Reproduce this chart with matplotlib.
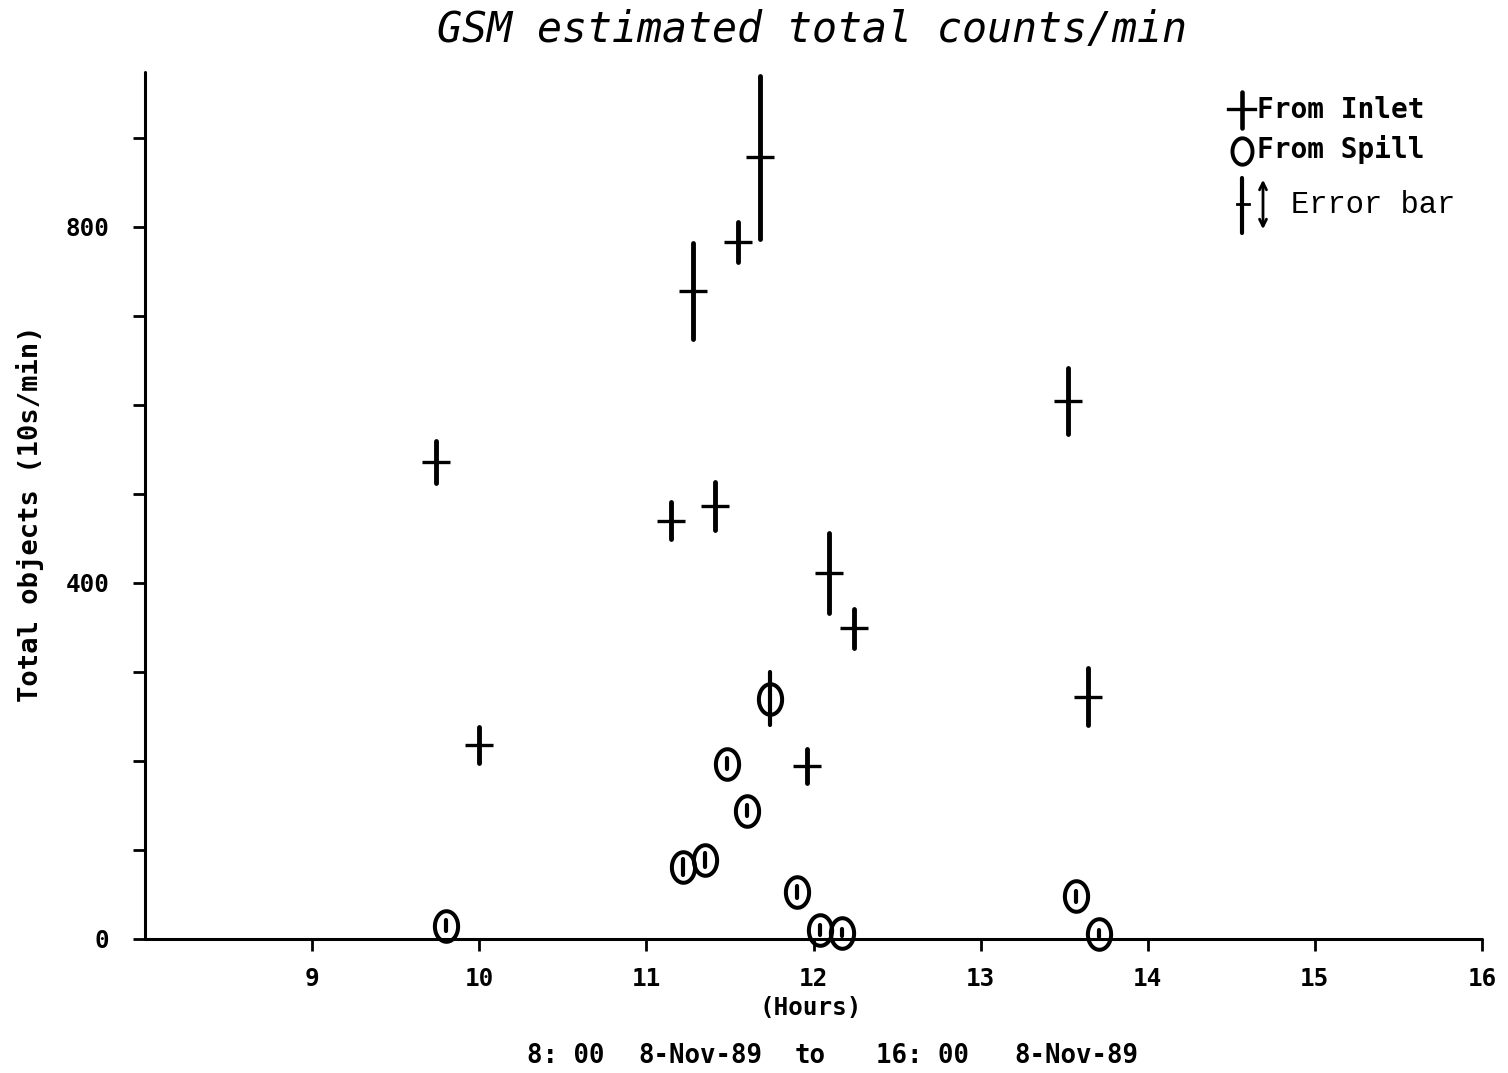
import matplotlib
matplotlib.use("Agg")
import numpy as np
import matplotlib.pyplot as plt
from matplotlib.path import Path
from matplotlib.lines import Line2D
from matplotlib.patches import FancyArrowPatch

# Counts from the inlet: time (hours), estimated count, error half-range
inlet_hours = [9.74, 10.00, 11.15, 11.28, 11.41, 11.55, 11.68, 11.96, 12.09, 12.24, 13.52, 13.64]
inlet_counts = [536, 218, 470, 728, 486, 783, 878, 194, 411, 349, 604, 272]
inlet_err = [24, 20, 21, 54, 27, 22, 92, 19, 45, 22, 37, 32]

# Counts from the spill
spill_hours = [9.80, 11.22, 11.35, 11.48, 11.60, 11.74, 11.90, 12.04, 12.17, 13.57, 13.71]
spill_counts = [15, 81, 89, 197, 144, 270, 53, 10, 7, 48, 6]
spill_err = [6, 9, 8, 6, 6, 30, 7, 6, 4, 6, 4]

x_ticks = [9, 10, 11, 12, 13, 14, 15, 16]
y_ticks = [0, 100, 200, 300, 400, 500, 600, 700, 800, 900]
y_tick_labels = ["0", "", "", "", "400", "", "", "", "800", ""]

W, H = 1508, 1073
fig = plt.figure(figsize=(W / 100, H / 100), dpi=100)
fig.patch.set_facecolor("white")


def fx(px):
    return px / W


def fy(py):
    return 1 - py / H


ax = fig.add_axes([fx(145), fy(939), (1482 - 145) / W, (939 - 72) / H])
ax.set_xlim(8, 16)
ax.set_ylim(0, 974)

for side in ("top", "right"):
    ax.spines[side].set_visible(False)
for side in ("left", "bottom"):
    ax.spines[side].set_linewidth(2.2)
    ax.spines[side].set_capstyle("round")

mono = "DejaVu Sans Mono"
ax.set_xticks(x_ticks)
ax.set_xticklabels([str(t) for t in x_ticks], fontfamily=mono, fontweight="bold", fontsize=17.5)
ax.set_yticks(y_ticks)
ax.set_yticklabels(y_tick_labels, fontfamily=mono, fontweight="bold", fontsize=17.5)
ax.tick_params(axis="both", direction="out", length=8.5, width=2.0, color="black")
ax.tick_params(axis="x", pad=12)
ax.tick_params(axis="y", pad=17)

# Inlet: vertical error bars with a short horizontal bar at the estimate
ax.vlines(inlet_hours, np.array(inlet_counts) - np.array(inlet_err),
          np.array(inlet_counts) + np.array(inlet_err),
          colors="black", linewidth=3.5, capstyle="round", zorder=3)
ax.plot(inlet_hours, inlet_counts, linestyle="none", marker="_", markersize=19.5,
        markeredgewidth=2.4, color="black", zorder=4)

# Spill: open ellipse marker with its error bar inside
theta = np.linspace(0, 2 * np.pi, 80)
ellipse = Path(np.column_stack([0.38 * np.cos(theta), 0.5 * np.sin(theta)]), closed=True)
ax.vlines(spill_hours, np.array(spill_counts) - np.array(spill_err),
          np.array(spill_counts) + np.array(spill_err),
          colors="black", linewidth=3.0, capstyle="round", zorder=3)
ax.plot(spill_hours, spill_counts, linestyle="none", marker=ellipse, markersize=22,
        markerfacecolor="none", markeredgecolor="black", markeredgewidth=2.9,
        zorder=4, clip_on=False)

# Titles and labels
fig.text(fx(812), fy(30), "GSM estimated total counts/min", fontfamily=mono,
         style="oblique", fontsize=30, ha="center", va="center")
fig.text(fx(30), fy(514), "Total objects (10s/min)", fontfamily=mono, fontweight="bold",
         fontsize=19.5, rotation=90, ha="center", va="center")
fig.text(fx(811), fy(1008), "(Hours)", fontfamily=mono, fontweight="bold",
         fontsize=17.5, ha="center", va="center")
for px, s in [(566, "8: 00"), (700, "8-Nov-89"), (810, "to"), (922, "16: 00"), (1076, "8-Nov-89")]:
    fig.text(fx(px), fy(1056), s, fontfamily=mono, fontweight="bold", fontsize=18.5,
             ha="center", va="center")

# Key
fig.add_artist(Line2D([fx(1242), fx(1242)], [fy(92), fy(128)], color="black",
                      linewidth=3.3, solid_capstyle="round"))
fig.add_artist(Line2D([fx(1228), fx(1255)], [fy(109), fy(109)], color="black",
                      linewidth=2.4))
fig.add_artist(Line2D([fx(1242)], [fy(151)], marker=ellipse, markersize=19,
                      markerfacecolor="none", markeredgecolor="black",
                      markeredgewidth=2.8, linestyle="none"))
fig.text(fx(1257), fy(110), "From Inlet", fontfamily=mono, fontweight="bold",
         fontsize=20, ha="left", va="center")
fig.text(fx(1257), fy(150), "From Spill", fontfamily=mono, fontweight="bold",
         fontsize=20, ha="left", va="center")
fig.add_artist(Line2D([fx(1242), fx(1242)], [fy(178), fy(233)], color="black",
                      linewidth=3.0, solid_capstyle="round"))
fig.add_artist(Line2D([fx(1237), fx(1249)], [fy(204), fy(204)], color="black",
                      linewidth=2.0))
fig.add_artist(FancyArrowPatch(
    (fx(1263), fy(177)), (fx(1263), fy(232)), transform=fig.transFigure,
    arrowstyle="<->,head_length=5,head_width=2.5", color="black", linewidth=2.0))
fig.text(fx(1291), fy(205), "Error bar", fontfamily="Liberation Mono",
         fontsize=22, ha="left", va="center")

fig.savefig("out.png", dpi=100, facecolor="white")
